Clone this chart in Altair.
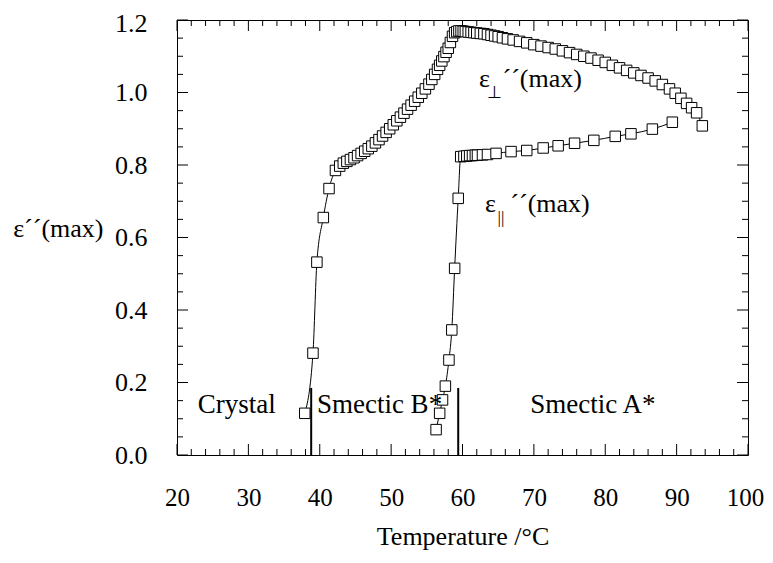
import altair as alt
import pandas as pd

# ---------------- data ----------------
perp_T = [37.9, 39.05, 39.6, 40.5, 41.3, 42.2, 42.8, 43.3, 43.8, 44.3, 44.8, 45.3, 45.8,
          46.3, 46.8, 47.3, 47.8, 48.3, 48.8, 49.3, 49.8, 50.3, 50.8, 51.3, 51.8, 52.3,
          52.8, 53.3, 53.8, 54.3, 54.8, 55.3, 55.7, 56.1, 56.5, 56.8, 57.1, 57.4, 57.7,
          58.0, 58.3, 58.6, 58.9, 59.2, 59.5, 59.8, 60.1, 60.4, 60.8, 61.2, 61.6, 62.0,
          62.5, 63.0, 63.5, 64.0, 64.5, 65.0, 65.6, 66.3, 67.1, 68.0, 69.0, 70.0, 71.0,
          72.0, 73.0, 74.0, 75.0, 76.0, 77.0, 78.0, 79.0, 80.0, 81.0, 82.0, 83.0, 84.0,
          85.0, 86.0, 87.0, 88.0, 89.0, 89.8, 90.6, 91.4, 92.1, 92.8, 93.6]
perp_v = [0.115, 0.281, 0.532, 0.655, 0.735, 0.785, 0.797, 0.805, 0.810, 0.815, 0.820, 0.826, 0.832,
          0.838, 0.845, 0.852, 0.861, 0.870, 0.880, 0.890, 0.900, 0.911, 0.922, 0.932, 0.943, 0.954,
          0.965, 0.976, 0.987, 0.998, 1.010, 1.023, 1.036, 1.050, 1.064, 1.075, 1.087, 1.099, 1.111,
          1.122, 1.138, 1.155, 1.165, 1.168, 1.170, 1.170, 1.169, 1.168, 1.167, 1.166, 1.165, 1.164,
          1.163, 1.162, 1.160, 1.158, 1.156, 1.154, 1.151, 1.148, 1.145, 1.141, 1.137, 1.132, 1.128,
          1.124, 1.120, 1.115, 1.110, 1.105, 1.100, 1.095, 1.089, 1.083, 1.075, 1.068, 1.061, 1.054,
          1.047, 1.040, 1.032, 1.022, 1.010, 0.998, 0.984, 0.970, 0.958, 0.944, 0.908]

par_T = [56.3, 56.8, 57.2, 57.6, 58.1, 58.5, 58.9, 59.4, 59.75, 60.2, 60.6, 61.0, 61.4, 61.8,
         62.1, 62.8, 63.5, 64.7, 66.8, 69.0, 71.3, 73.4, 75.7, 78.4, 81.4, 83.6, 86.6, 89.4]
par_v = [0.070, 0.115, 0.152, 0.190, 0.262, 0.345, 0.515, 0.708, 0.823, 0.824, 0.825, 0.826, 0.826, 0.827,
         0.827, 0.828, 0.829, 0.832, 0.837, 0.840, 0.847, 0.853, 0.860, 0.868, 0.879, 0.886, 0.899, 0.918]

phase_T = [38.8, 59.4]
phase_top = [0.185, 0.185]

phase_names = ["Crystal", "Smectic B*", "Smectic A*"]
phase_name_T = [22.9, 39.6, 69.5]
phase_name_v = [0.116, 0.116, 0.116]

x_ticks = [20, 30, 40, 50, 60, 70, 80, 90, 100]
x_minor = [22, 24, 26, 28, 32, 34, 36, 38, 42, 44, 46, 48, 52, 54, 56, 58, 62, 64, 66, 68,
           72, 74, 76, 78, 82, 84, 86, 88, 92, 94, 96, 98]
y_ticks = [0.0, 0.2, 0.4, 0.6, 0.8, 1.0, 1.2]
y_minor = [0.05, 0.10, 0.15, 0.25, 0.30, 0.35, 0.45, 0.50, 0.55, 0.65, 0.70, 0.75,
           0.85, 0.90, 0.95, 1.05, 1.10, 1.15]

# ---------------- chart ----------------
W, H = 571, 435
FONT = "Liberation Serif"
FS = 26

xs = alt.Scale(domain=[20, 100], nice=False, zero=False)
ys = alt.Scale(domain=[0, 1.2], nice=False, zero=False)

xaxis = alt.Axis(values=x_ticks, format="d", ticks=False, domain=False, grid=False,
                 labelFont=FONT, labelFontSize=25, labelColor="black", labelPadding=30,
                 labelFlush=False, labelOverlap=False,
                 labelOffset={"condition": {"test": "datum.value == 100", "value": -3}, "value": 0},
                 title="Temperature /°C", titleFont=FONT, titleFontSize=FS,
                 titleFontWeight="normal", titleColor="black",
                 titleBaseline="alphabetic", titleY=89)
yaxis = alt.Axis(values=y_ticks, format=".1f", ticks=False, domain=False, grid=False,
                 labelFont=FONT, labelFontSize=FS, labelColor="black", labelPadding=30,
                 labelFlush=False, labelOverlap=False,
                 labelOffset={"condition": {"test": "datum.value >= 1.15", "value": 3}, "value": 0},
                 title="ε´´(max)", titleFont=FONT, titleFontSize=26,
                 titleFontWeight="normal", titleColor="black", titleAngle=0,
                 titleAlign="right", titleBaseline="alphabetic", titleX=-74, titleY=216)

X = lambda: alt.X("T:Q", scale=xs, axis=xaxis)
Y = lambda: alt.Y("v:Q", scale=ys, axis=yaxis)

perp = pd.DataFrame({"T": perp_T, "v": perp_v, "s": "perp"})
par = pd.DataFrame({"T": par_T, "v": par_v, "s": "par"})
series = pd.concat([perp, par], ignore_index=True)

lines = alt.Chart(series).mark_line(color="black", strokeWidth=1, interpolate="monotone").encode(
    x=X(), y=Y(), detail="s:N")
pts = alt.Chart(series).mark_point(shape="square", filled=True, fill="white", stroke="black",
                                   strokeWidth=1, size=110, opacity=1).encode(x=X(), y=Y())

phase_df = pd.DataFrame({"T": phase_T, "v": [0.0, 0.0], "v2": phase_top})
phase_lines = alt.Chart(phase_df).mark_rule(color="black", strokeWidth=2).encode(
    x=X(), y=Y(), y2="v2:Q")

names_df = pd.DataFrame({"T": phase_name_T, "v": phase_name_v, "t": phase_names})
names = alt.Chart(names_df).mark_text(align="left", baseline="alphabetic", font=FONT,
                                      fontSize=27, color="black").encode(x=X(), y=Y(), text="t:N")

lab_df = pd.DataFrame({
    "T": [62.3, 63.5, 65.6, 63.15, 64.9, 66.7],
    "v": [1.015, 0.985, 1.015, 0.670, 0.640, 0.670],
    "t": ["ε", "⊥", "´´(max)", "ε", "||", "´´(max)"],
    "fs": [26, 17, 26, 26, 17, 26],
})
curve_labels = alt.Chart(lab_df).mark_text(align="left", baseline="alphabetic", font=FONT,
                                           color="black").encode(
    x=X(), y=Y(), text="t:N", size=alt.Size("fs:Q", scale=None, legend=None))

# inward tick marks on all four sides
xM = pd.DataFrame({"T": x_ticks})
xm = pd.DataFrame({"T": x_minor})
yM = pd.DataFrame({"v": y_ticks})
ym = pd.DataFrame({"v": y_minor})
MAJ, MIN = 11, 6

def xtick(df, y0, y1):
    return alt.Chart(df).mark_rule(color="black", strokeWidth=1).encode(
        x=X(), y=alt.value(y0), y2=alt.value(y1))

def ytick(df, x0, x1):
    return alt.Chart(df).mark_rule(color="black", strokeWidth=1).encode(
        y=Y(), x=alt.value(x0), x2=alt.value(x1))

ticks = [
    xtick(xM, H, H - MAJ), xtick(xm, H, H - MIN),
    xtick(xM, 0, MAJ), xtick(xm, 0, MIN),
    ytick(yM, 0, MAJ), ytick(ym, 0, MIN),
    ytick(yM, W, W - MAJ), ytick(ym, W, W - MIN),
]

chart = alt.layer(*ticks, phase_lines, lines, pts, names, curve_labels).properties(
    width=W, height=H,
    autosize=alt.AutoSizeParams(type="none"),
    padding={"left": 169, "top": 12, "right": 17, "bottom": 96},
    background="white",
).configure_view(stroke="black", strokeWidth=1)

chart.save("out.html", embed_options={"renderer": "svg", "actions": False})
